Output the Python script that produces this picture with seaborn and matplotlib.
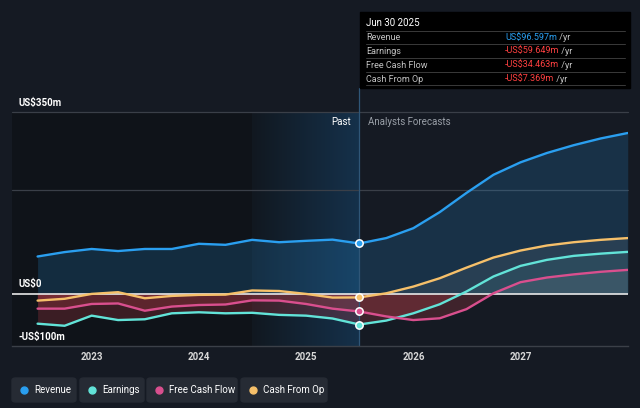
import numpy as np
import pandas as pd
import matplotlib
matplotlib.use("Agg")
import matplotlib.pyplot as plt
import seaborn as sns
from matplotlib.patches import FancyBboxPatch, Rectangle
from matplotlib.colors import LinearSegmentedColormap

# ---------------- data ----------------
dates = pd.date_range("2022-06-30", "2027-12-31", freq="QE")
revenue = [71.5, 80, 86, 82, 86, 86, 96, 94, 103.6, 99, 101.7, 104, 96.6,
           107, 126, 157, 194, 229, 253, 271, 286, 299, 309.5]
earnings = [-58, -62, -42.5, -51, -49.5, -38, -36, -38, -37, -41, -42.5, -48, -59.6,
            -52, -38, -20.6, 4, 33, 53.4, 65, 72.7, 77, 80.4]
fcf = [-29, -29, -20, -19, -33, -25, -22, -21, -13, -13.5, -20, -29, -34.5,
       -44, -51, -47.6, -30, 0.6, 22, 31, 37, 42, 45.7]
cfo = [-13.5, -10, -0.6, 2.7, -9, -4.5, -2.5, -2, 6, 5, -0.6, -7.7, -7.4,
       0.6, 13.5, 29.6, 50, 69.5, 83, 92.7, 99, 103.6, 107]
series_names = ["Revenue", "Earnings", "Free Cash Flow", "Cash From Op"]
tick_years = [2023, 2024, 2025, 2026, 2027]
tooltip_date = "Jun 30 2025"
tooltip_values = ["US$96.597m", "-US$59.649m", "-US$34.463m", "-US$7.369m"]
y_labels = {350: "US$350m", 0: "US$0", -101: "-US$100m"}

colors = {"Revenue": "#2a9ff0", "Earnings": "#62e3d8",
          "Free Cash Flow": "#d94f8e", "Cash From Op": "#f6c06a"}

t = dates.year + (dates.dayofyear - 1) / np.where(dates.is_leap_year, 366, 365)
t = np.asarray(t, dtype=float)
past_end = t[12]
band_start = t[8]

df = pd.DataFrame({
    "t": np.tile(t, 4),
    "value": np.concatenate([revenue, earnings, fcf, cfo]),
    "series": np.repeat(series_names, len(t)),
})

# ---------------- figure ----------------
BG = "#151a23"
sns.set_theme(style="dark")
plt.rcParams["font.family"] = ["Roboto", "DejaVu Sans"]

fig = plt.figure(figsize=(6.4, 4.08), dpi=100, facecolor=BG)
W, H = 640, 408
ax_top, ax_bot = 112, 346
ax = fig.add_axes([12 / W, 1 - ax_bot / H, 616 / W, (ax_bot - ax_top) / H])
ax.set_facecolor(BG)

x0 = 2023 - 80 / 107.3
x1 = 2028.0
y0, y1 = -101, 350

# past darker region + highlighted band
ax.axvspan(x0, band_start, color="#0f1319", zorder=0, lw=0)
grad = np.linspace(0, 1, 256).reshape(1, -1)
cmap = LinearSegmentedColormap.from_list("band", ["#111820", "#15314b"])
ax.imshow(grad, extent=[band_start, past_end, y0, y1], aspect="auto",
          cmap=cmap, zorder=0.1, interpolation="bicubic")

# gridlines
for g in [350, 200]:
    ax.axhline(g, color="#3a3f48", lw=0.9, zorder=0.5, clip_on=False)

# fills
rev = np.array(revenue)
ax.fill_between(t, 0, rev, color=colors["Revenue"], alpha=0.18, lw=0, zorder=1)
for name, arr in [("Cash From Op", cfo), ("Free Cash Flow", fcf), ("Earnings", earnings)]:
    a = np.array(arr)
    ax.fill_between(t, 0, a, where=a < 0, interpolate=True, color="#d8454f",
                    alpha=0.22, lw=0, zorder=1)
    pos_col = colors[name] if name == "Earnings" else "#ffffff"
    ax.fill_between(t, 0, a, where=a > 0, interpolate=True, color=pos_col,
                    alpha=0.07, lw=0, zorder=1)

# lines
sns.lineplot(data=df, x="t", y="value", hue="series", palette=colors,
             hue_order=["Earnings", "Free Cash Flow", "Cash From Op", "Revenue"],
             linewidth=1.7, legend=False, ax=ax, sort=False, zorder=3)

# zero line
ax.axhline(0, color="#e8e8e8", lw=1.2, zorder=2.5)

# markers at past end
for name, arr in [("Revenue", revenue), ("Cash From Op", cfo),
                  ("Free Cash Flow", fcf), ("Earnings", earnings)]:
    ax.scatter([past_end], [arr[12]], s=28, color=colors[name], edgecolor="white",
               linewidth=1.1, zorder=5)

# divider line
ax.axvline(past_end, ymin=0, ymax=(ax_bot - 88) / (ax_bot - ax_top), color="#2f5677",
           lw=0.9, zorder=2, clip_on=False)

ax.set_xlim(x0, x1)
ax.set_ylim(y0, y1)
for s in ["top", "left", "right"]:
    ax.spines[s].set_visible(False)
ax.spines["bottom"].set_color("#3b4048")
ax.spines["bottom"].set_linewidth(1)
ax.set_xticks(tick_years)
ax.set_xticklabels([str(y) for y in tick_years])
ax.tick_params(axis="x", colors="#d8d8d8", labelsize=7, length=0, pad=4)
for lab in ax.get_xticklabels():
    lab.set_fontweight("bold")
ax.set_yticks([])
ax.set_xlabel("")
ax.set_ylabel("")
ax.grid(False)

# y labels inside
for val, txt in y_labels.items():
    ax.annotate(txt, xy=(x0, val), xytext=(5, 3), textcoords="offset points",
                color="#ffffff", fontsize=7, fontweight="bold", va="bottom", ha="left",
                annotation_clip=False)

ax.annotate("Past", xy=(past_end, 350), xytext=(-6, -7), textcoords="offset points",
            color="#ffffff", fontsize=7, ha="right", va="center")
ax.annotate("Analysts Forecasts", xy=(past_end, 350), xytext=(6, -7),
            textcoords="offset points", color="#9aa0a8", fontsize=7, ha="left", va="center")

# ---------------- tooltip ----------------
fig.add_artist(Rectangle((360 / W, 1 - 88 / H), 270 / W, 76 / H,
                         transform=fig.transFigure, color="#000000", zorder=10))
fig.text(366 / W, 1 - 23 / H, tooltip_date, color="#ffffff", fontsize=7,
         va="center", zorder=11)
row_y = [38, 51, 65, 79]
for i, (name, val) in enumerate(zip(series_names, tooltip_values)):
    yy = 1 - row_y[i] / H
    sep = 1 - (row_y[i] - 7) / H
    fig.add_artist(plt.Line2D([366 / W, 625 / W], [sep, sep], transform=fig.transFigure,
                              color="#3a3a3a", lw=0.7, zorder=11))
    fig.text(366 / W, yy, name, color="#c4c4c4", fontsize=6.5, va="center", zorder=11)
    vcol = colors["Revenue"] if not val.startswith("-") else "#ff4040"
    tv = fig.text(505 / W, yy, val, color=vcol, fontsize=6.5, va="center", zorder=11)
    a = plt.Annotation(" /yr", xy=(1, 0.5), xycoords=tv, va="center", ha="left",
                       color="#c4c4c4", fontsize=6.5, zorder=11)
    fig.add_artist(a)
last = 1 - 85 / H
fig.add_artist(plt.Line2D([366 / W, 625 / W], [last, last], transform=fig.transFigure,
                          color="#3a3a3a", lw=0.7, zorder=11))

# ---------------- legend buttons ----------------
boxes = [(12, 76), (80, 144), (147, 237), (241, 327)]
for (bx0, bx1), name in zip(boxes, series_names):
    fig.add_artist(FancyBboxPatch((bx0 / W, 1 - 402 / H), (bx1 - bx0) / W, 24 / H,
                                  boxstyle="round,pad=0,rounding_size=0.006",
                                  transform=fig.transFigure, color="#262b34", zorder=10))
    fig.add_artist(plt.Line2D([(bx0 + 12) / W], [1 - 390 / H], marker="o", ms=5,
                              color=colors[name], transform=fig.transFigure, zorder=11))
    fig.text((bx0 + 22) / W, 1 - 390 / H, name, color="#ffffff", fontsize=7,
             va="center", ha="left", zorder=11)

fig.savefig("out.png", dpi=100, facecolor=BG)
